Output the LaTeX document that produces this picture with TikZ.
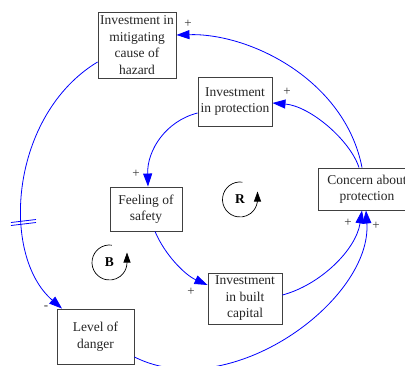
\documentclass[tikz,border=0pt]{standalone}
\usepackage{fontspec}
\setmainfont{Liberation Serif}
\usetikzlibrary{arrows.meta}

\tikzset{
  var/.style={draw=black!75, line width=0.9pt, fill=white, align=center,
    inner sep=1pt, text=black!85,
    font=\fontsize{13.5}{16.5}\selectfont},
  link/.style={draw=blue, line width=0.8pt,
    -{Triangle[length=13pt,width=9pt]}},
  sign/.style={text=black!80, inner sep=0pt, font=\fontsize{13}{13}\selectfont},
  loopmark/.style={draw=black, line width=0.7pt,
    -{Triangle[length=10pt,width=7pt]}},
  looplabel/.style={inner sep=0pt, font=\fontsize{13.5}{14}\selectfont\bfseries},
}

\begin{document}
\begin{tikzpicture}[x=1pt, y=-1pt]
\useasboundingbox (0,0) rectangle (405,365);
\clip (0,0) rectangle (405,365);

% variables
\node[var, minimum width=78pt, minimum height=66pt] (mitig) at (137,45)
  {Investment in\\mitigating\\cause of\\hazard};
\node[var, minimum width=74pt, minimum height=49pt] (prot) at (235,101.5)
  {Investment\\in protection};
\node[var, minimum width=72pt, minimum height=44pt] (feel) at (146,209)
  {Feeling of\\safety};
\node[var, minimum width=98pt, minimum height=42pt] (concern) at (367,189)
  {Concern about\\protection};
\node[var, minimum width=74pt, minimum height=51pt] (built) at (245,298.5)
  {Investment\\in built\\capital};
\node[var, minimum width=77pt, minimum height=55pt] (danger) at (95.5,336.5)
  {Level of\\danger};

% causal links
\draw[link] ([xshift=-5pt]concern.north) .. controls (345,80) and (250,33) ..
  ([yshift=10pt]mitig.east);
\draw[link] ([xshift=-8pt]concern.north) .. controls (350,140) and (310,106) ..
  ([yshift=-1.5pt]prot.east);
\draw[link] ([yshift=-11.5pt]prot.west) .. controls (166,121) and (147,150) ..
  ([xshift=2pt]feel.north);
\draw[link] ([xshift=9pt]feel.south) .. controls (165,255) and (185,275) ..
  ([yshift=13.5pt]built.west);
\draw[link] ([yshift=3.5pt]built.east) .. controls (320,285) and (356,250) ..
  ([xshift=-5pt]concern.south);
\draw[link] ([yshift=-20.5pt]danger.east) .. controls (230,405) and (372,300) ..
  ([xshift=-1pt]concern.south);
\draw[link] ([yshift=-17pt]mitig.west) .. controls (10,115) and (0,255) ..
  ([xshift=-33.5pt]danger.north);

% delay mark on the mitigation link
\draw[blue, line width=0.8pt] (11,222.5) -- (36,219.5);
\draw[blue, line width=0.8pt] (11,225.5) -- (36,222.5);

% link polarities
\node[sign] (s1) at (188,24) {+};
\node[sign] (s2) at (287,92) {+};
\node[sign] (s3) at (136,174) {+};
\node[sign] (s4) at (191,292) {+};
\node[sign] (s5) at (46,308) {-};
\node[sign] (s6) at (348,223) {+};
\node[sign] (s7) at (376,226) {+};

% loop markers (drawn with the y axis pointing up)
\node[looplabel] (R) at (240,199.5) {R};
\begin{scope}[shift={(240,199.5)}, y=1pt]
  \draw[loopmark] (82:17.5) arc[start angle=82, end angle=360, radius=17.5pt]
    -- (17.5,8);
\end{scope}
\node[looplabel] (B) at (109.5,262.5) {B};
\begin{scope}[shift={(109.5,262.5)}, y=1pt]
  \draw[loopmark] (82:17.5) arc[start angle=82, end angle=360, radius=17.5pt]
    -- (17.5,10);
\end{scope}
\end{tikzpicture}
\end{document}
